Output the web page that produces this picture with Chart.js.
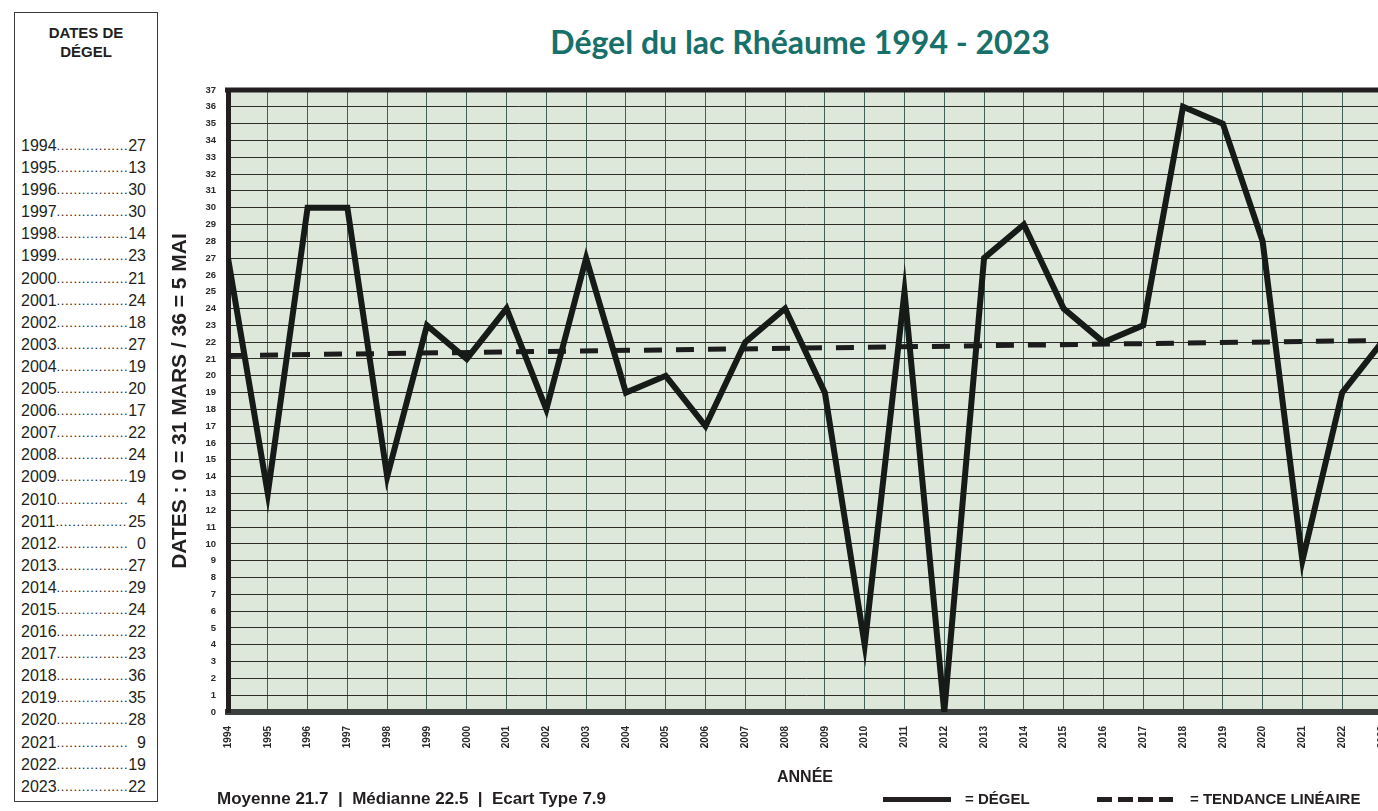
<!DOCTYPE html>
<html lang="fr">
<head>
<meta charset="utf-8">
<title>Dégel du lac Rhéaume 1994 - 2023</title>
<script src="https://cdn.jsdelivr.net/npm/chart.js@4.4.0/dist/chart.umd.min.js"></script>
<style>
    body { margin: 0; width: 1378px; height: 811px; overflow: hidden; background: #fff; position: relative; font-family: "Liberation Sans", Arial, sans-serif; color: #231f20; }
    #tableau { position: absolute; left: 14px; top: 12px; width: 142px; height: 788px; border: 1.5px solid #3a3a3a; }
    #tableau .entete { position: absolute; left: 0; top: 10px; width: 100%; text-align: center; font-weight: bold; font-size: 15px; line-height: 19px; }
    #lignes { position: absolute; left: 6px; right: 11px; top: 122px; }
    #lignes .ligne { height: 22.1px; line-height: 22.1px; font-size: 16px; display: flex; white-space: nowrap; }
    #lignes .points { flex: 1; overflow: hidden; letter-spacing: 0.6px; font-size: 13px; }
    #lignes .val { width: 19px; text-align: right; }
    #titre { position: absolute; left: 330px; width: 940px; top: 22px; text-align: center; font-family: "Comic Sans MS", "Lato", sans-serif; font-weight: bold; font-size: 32px; color: #17716a; }
    #graphique { position: absolute; left: 0; top: 0; }
    .bas { position: absolute; font-weight: bold; white-space: nowrap; }
</style>
</head>
<body>
<div id="tableau">
    <div class="entete">DATES DE<br>DÉGEL</div>
    <div id="lignes"></div>
</div>
<div id="titre">Dégel du lac Rhéaume 1994 - 2023</div>
<canvas id="graphique" width="1440" height="811"></canvas>

<div class="bas" style="left:217px; top:789px; font-size:17px;">Moyenne 21.7 &nbsp;|&nbsp; Médianne 22.5 &nbsp;|&nbsp; Ecart Type 7.9</div>
<div style="position:absolute; left:883px; top:797px; width:68px; height:5px; background:#231f20;"></div>
<div class="bas" style="left:965px; top:790px; font-size:15px;">= DÉGEL</div>
<div style="position:absolute; left:1097px; top:797px; width:76px; height:5px; background:repeating-linear-gradient(90deg, #231f20 0 15px, transparent 15px 20.5px);"></div>
<div class="bas" style="left:1190px; top:790px; font-size:15px;">= TENDANCE LINÉAIRE</div>

<script>
const annees = ["1994", "1995", "1996", "1997", "1998", "1999", "2000", "2001", "2002", "2003",
    "2004", "2005", "2006", "2007", "2008", "2009", "2010", "2011", "2012", "2013",
    "2014", "2015", "2016", "2017", "2018", "2019", "2020", "2021", "2022", "2023"];
const degel = [27, 13, 30, 30, 14, 23, 21, 24, 18, 27,
    19, 20, 17, 22, 24, 19, 4, 25, 0, 27,
    29, 24, 22, 23, 36, 35, 28, 9, 19, 22];
// tendance lineaire (debut / fin)
const tendanceAnnees = ["1994", "2023"];
const tendanceValeurs = [21.2, 22.1];

// tableau de gauche
annees.forEach((an, i) => {
    const v = degel[i];
    document.getElementById("lignes").insertAdjacentHTML("beforeend", `
        <div class="ligne"><span>${an}</span><span class="points">........................</span><span class="val">${v < 10 ? "&nbsp;" + v : v}</span></div>
    `);
});

const fondZone = {
    id: "fondZone",
    beforeDraw(chart) {
        const { ctx, chartArea: a } = chart;
        ctx.save();
        ctx.fillStyle = "#dde7da";
        ctx.fillRect(a.left, a.top, a.right - a.left, a.bottom - a.top);
        ctx.restore();
    },
    beforeDatasetsDraw(chart) {
        const { ctx, chartArea: a } = chart;
        ctx.save();
        ctx.strokeStyle = "#231f20";
        ctx.lineWidth = 5;
        ctx.beginPath();
        ctx.moveTo(a.left - 3, a.top);
        ctx.lineTo(chart.width, a.top);
        ctx.stroke();
        ctx.restore();
    },
};

new Chart(document.getElementById("graphique"), {
    type: "line",
    data: {
        labels: annees,
        datasets: [
            {
                label: "= DÉGEL",
                data: degel,
                borderColor: "#161b18",
                borderWidth: 6,
                pointRadius: 0,
                tension: 0,
                borderJoinStyle: "miter",
                clip: 0,
            },
            {
                label: "= TENDANCE LINÉAIRE",
                data: tendanceAnnees.map((a, i) => ({ x: a, y: tendanceValeurs[i] })),
                borderColor: "#1c1c1c",
                borderWidth: 5,
                borderDash: [18, 14],
                pointRadius: 0,
                tension: 0,
                clip: 0,
            },
        ],
    },
    options: {
        responsive: false,
        animation: false,
        devicePixelRatio: 1,
        layout: { padding: { left: 0, right: 58, top: 90, bottom: 0 } },
        plugins: { legend: { display: false }, tooltip: { enabled: false } },
        scales: {
            x: {
                type: "category",
                offset: false,
                grid: { color: "#41615b", lineWidth: 1, drawTicks: false, offset: false },
                border: { color: "#3b403e", width: 6 },
                ticks: {
                    autoSkip: false,
                    maxRotation: 90,
                    minRotation: 90,
                    padding: 14,
                    color: "#2a2a2a",
                    font: { family: "Liberation Sans", size: 10, weight: "bold" },
                },
                title: {
                    display: true,
                    text: "ANNÉE",
                    color: "#231f20",
                    font: { family: "Liberation Sans", size: 16, weight: "bold" },
                    padding: { top: 0, bottom: 24 },
                },
                afterFit(scale) { scale.height = 99; },
            },
            y: {
                min: 0,
                max: 37,
                grid: { color: "#2f2d28", lineWidth: 1, drawTicks: false },
                border: { color: "#231f20", width: 5 },
                ticks: {
                    stepSize: 1,
                    autoSkip: false,
                    padding: 12,
                    color: "#2a2a2a",
                    font: { family: "Liberation Sans", size: 9.5, weight: "bold" },
                },
                title: {
                    display: true,
                    text: "DATES : 0 = 31 MARS / 36 = 5 MAI",
                    color: "#231f20",
                    font: { family: "Liberation Sans", size: 21, weight: "bold" },
                    padding: { top: 168, bottom: 0 },
                },
                afterFit(scale) { scale.width = 228; },
            },
        },
    },
    plugins: [fondZone],
});
</script>
</body>
</html>
